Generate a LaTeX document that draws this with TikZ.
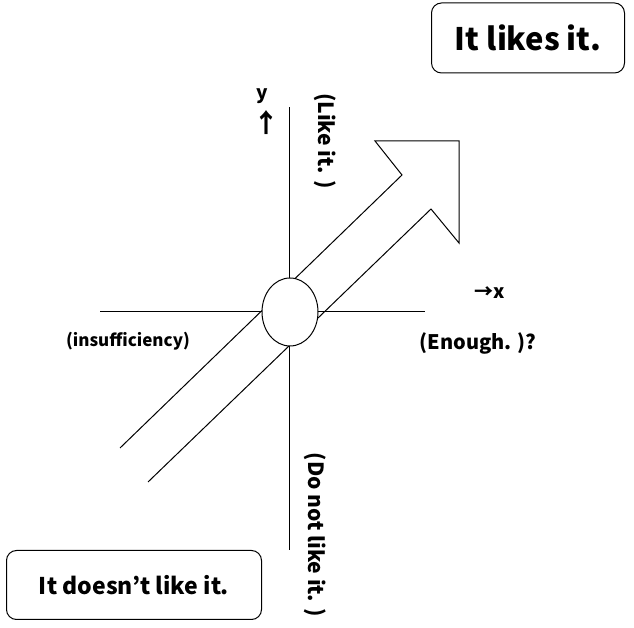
\documentclass[tikz,border=0pt]{standalone}
\usepackage{fontspec}
\setmainfont{Noto Sans CJK JP}
\usetikzlibrary{positioning,shapes.geometric}

\tikzset{
  axisline/.style={line width=1pt},
  notebox/.style={draw,rounded corners=10pt,line width=1pt,font=\bfseries},
  axislabel/.style={font=\bfseries\fontsize{19}{19}\selectfont,inner sep=0pt},
  sidelabel/.style={font=\bfseries\fontsize{17}{17}\selectfont,inner sep=0pt}
}

\begin{document}
\begin{tikzpicture}[x=1pt,y=1pt]
\useasboundingbox (0,0) rectangle (634,628);
% axes
\coordinate (yTop) at (289,521);
\coordinate (yBot) at (289,78);
\coordinate (xLeft) at (100,316);
\coordinate (xRight) at (425,316);
\draw[axisline] (yBot) -- (yTop);
\draw[axisline] (xLeft) -- (xRight);
% the broad arrow
\draw[axisline,line join=miter] (120,180) -- (402,453) -- (375,487) -- (459,487)
  -- (459,385) -- (431,419) -- (148,146);
% origin
\node[draw,fill=white,line width=1pt,ellipse,minimum width=56,minimum height=68,inner sep=0pt] (origin) at (290,316) {};
% axis names
\node[axislabel] (yname) at (262,532) {y};
\node[axislabel,font=\bfseries\fontsize{26}{26}\selectfont] (yarrow) at (266,505) {↑};
\node[axislabel] (xname) at (490,335) {→x};
\node[axislabel,rotate=-90,font=\bfseries\fontsize{21}{21}\selectfont] (likeit) at (325,487) {(Like it. )};
\node[axislabel,rotate=-90,font=\bfseries\fontsize{21}{21}\selectfont] (dislikeit) at (315,93) {(Do not like it. )};
\node[sidelabel] (lack) at (128,287) {(insufficiency)};
\node[axislabel,font=\bfseries\fontsize{20}{20}\selectfont] (enough) at (478,285) {(Enough. )?};
% boxes
\node[notebox,minimum width=193,minimum height=70,font=\bfseries\fontsize{31}{31}\selectfont] (likes) at (528,590) {It likes it.};
\node[notebox,minimum width=255,minimum height=69,font=\bfseries\fontsize{23}{23}\selectfont] (doesnt) at (134,43) {It doesn’t like it.};
\end{tikzpicture}
\end{document}
